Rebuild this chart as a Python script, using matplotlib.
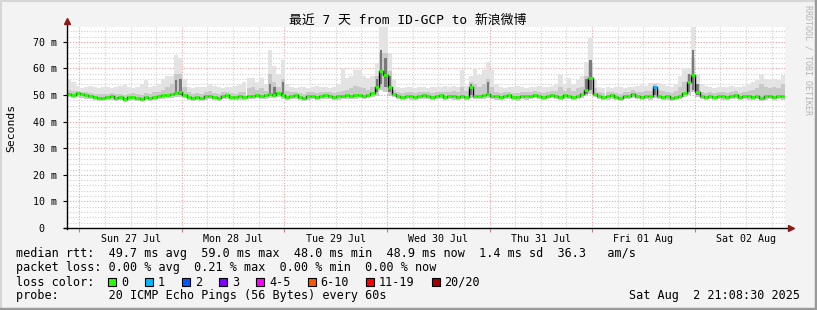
import datetime as dt
import matplotlib
matplotlib.use('Agg')
import matplotlib.pyplot as plt
import matplotlib.dates as mdates
from matplotlib.patches import Rectangle
from matplotlib.lines import Line2D
import numpy as np

plt.rcParams['font.family'] = ['DejaVu Sans Mono', 'Noto Sans CJK SC']

start = dt.datetime(2025, 7, 26, 21, 8, 30)

# hourly median rtt (ms), one row per 24 h starting at 'start'
median = [
    50.5, 50.2, 50.8, 50.4, 50.0, 49.6, 49.3, 49.0, 48.8, 49.2, 49.5, 49.0, 49.3, 48.6, 49.1, 49.4, 49.0, 48.7, 49.2, 48.8, 49.3, 49.6, 49.9, 50.2,
    50.4, 50.8, 51.0, 50.2, 49.4, 48.9, 49.3, 49.0, 49.5, 49.8, 49.3, 49.0, 49.6, 49.9, 49.4, 49.1, 49.5, 49.2, 49.8, 49.6, 50.1, 49.7, 49.9, 50.3,
    50.2, 50.6, 50.0, 49.2, 49.6, 49.9, 49.4, 49.0, 49.5, 49.8, 49.3, 49.7, 50.0, 49.6, 49.2, 49.5, 49.8, 50.0, 49.7, 49.9, 50.2, 49.8, 50.1, 50.6,
    53.0, 59.0, 57.5, 53.0, 50.4, 49.6, 49.4, 49.8, 49.5, 49.2, 49.6, 49.9, 49.7, 49.3, 49.6, 50.0, 49.4, 49.8, 49.5, 49.2, 49.7, 49.4, 53.0, 49.8,
    49.6, 50.0, 50.4, 49.8, 49.5, 49.2, 49.6, 49.9, 49.4, 49.1, 49.7, 49.5, 49.8, 50.1, 49.6, 49.3, 49.8, 50.2, 49.7, 49.4, 49.9, 49.6, 49.3, 49.8,
    50.4, 52.0, 56.5, 50.5, 49.6, 49.2, 49.5, 49.9, 49.4, 49.0, 49.6, 49.8, 50.4, 49.7, 49.3, 49.8, 49.5, 53.0, 49.6, 49.2, 49.5, 49.0, 49.4, 49.8,
    50.6, 55.0, 57.6, 51.0, 49.6, 49.3, 49.7, 49.4, 49.8, 49.5, 49.2, 49.7, 50.0, 49.4, 49.8, 49.5, 49.2, 49.6, 49.0, 49.5, 49.8, 49.3, 49.6, 49.5,
]

# top of the light smoke (slowest ping)
smoke_hi = [
    55.5, 55.0, 53.5, 52.5, 53.0, 53.5, 53.0, 52.5, 53.0, 53.0, 52.5, 53.0, 53.5, 54.0, 53.0, 52.5, 53.0, 54.0, 55.5, 53.0, 53.5, 54.0, 56.0, 57.0,
    57.0, 65.0, 64.0, 56.0, 53.0, 52.5, 53.0, 53.0, 53.0, 54.0, 53.5, 53.0, 52.5, 53.0, 53.0, 53.5, 54.0, 55.0, 56.5, 56.5, 55.0, 56.5, 54.0, 67.0,
    61.0, 58.0, 63.0, 54.0, 53.0, 52.5, 53.0, 53.0, 52.5, 53.0, 53.5, 53.0, 53.0, 52.5, 53.0, 54.0, 60.0, 56.5, 57.0, 59.5, 59.5, 57.0, 56.5, 57.0,
    62.0, 76.0, 76.0, 66.0, 56.0, 53.0, 52.5, 53.0, 53.0, 52.5, 53.0, 53.0, 52.5, 53.0, 53.0, 53.0, 53.5, 53.0, 53.5, 53.0, 59.5, 53.5, 57.0, 60.0,
    57.5, 59.5, 62.4, 59.5, 54.0, 53.0, 52.5, 53.0, 53.0, 53.5, 53.0, 52.5, 53.0, 53.0, 53.5, 53.0, 53.0, 53.5, 54.0, 57.6, 54.0, 56.5, 54.0, 55.7,
    57.0, 62.5, 71.5, 56.0, 53.0, 52.5, 53.0, 52.5, 53.0, 53.0, 52.5, 53.0, 53.0, 53.5, 54.0, 53.5, 54.5, 54.6, 54.6, 54.0, 53.5, 53.0, 54.0, 57.0,
    60.0, 60.0, 76.0, 58.0, 54.0, 53.5, 53.0, 52.5, 53.0, 53.0, 53.0, 53.5, 53.0, 53.0, 53.5, 54.0, 55.0, 55.5, 57.6, 56.0, 55.5, 56.0, 55.5, 57.6,
]

# top of the medium smoke band
smoke_mid = [
    52.0, 51.5, 51.5, 51.0, 51.0, 50.8, 50.5, 50.5, 50.3, 50.5, 50.8, 50.5, 50.5, 50.2, 50.5, 50.8, 50.5, 50.2, 50.7, 50.5, 51.0, 51.0, 52.0, 53.0,
    54.0, 58.0, 58.0, 53.0, 51.0, 50.5, 50.7, 50.5, 51.0, 51.5, 50.8, 50.5, 51.0, 51.2, 50.8, 50.5, 51.0, 51.0, 52.5, 53.0, 52.0, 52.5, 51.5, 58.0,
    55.0, 53.0, 56.0, 51.5, 51.0, 51.0, 50.8, 50.5, 51.0, 51.2, 50.8, 51.0, 51.3, 51.0, 50.7, 51.0, 51.5, 52.0, 52.5, 53.5, 53.0, 52.5, 52.0, 53.0,
    57.0, 66.0, 66.0, 59.0, 52.0, 51.0, 50.8, 51.0, 51.0, 50.7, 51.0, 51.3, 51.0, 50.8, 51.0, 51.3, 51.0, 51.2, 51.5, 51.0, 53.0, 51.5, 55.0, 54.0,
    53.0, 54.0, 56.0, 53.0, 51.3, 50.8, 51.0, 51.3, 50.8, 50.6, 51.1, 51.0, 51.2, 51.5, 51.0, 50.8, 51.2, 51.6, 51.5, 53.0, 51.5, 52.5, 51.5, 52.5,
    53.0, 57.0, 62.0, 52.5, 51.0, 50.7, 51.0, 51.3, 50.8, 50.5, 51.0, 51.2, 51.8, 51.2, 51.0, 51.5, 51.5, 54.0, 52.0, 51.5, 51.2, 50.8, 51.5, 53.0,
    55.0, 58.0, 64.0, 54.0, 51.2, 50.8, 51.1, 50.8, 51.2, 51.0, 50.7, 51.1, 51.5, 50.8, 51.2, 51.5, 52.0, 52.5, 54.0, 53.0, 52.5, 53.0, 52.5, 54.0,
]

# bottom of the smoke (fastest ping)
smoke_lo = [
    49.2, 49.0, 49.4, 49.0, 48.7, 48.4, 48.1, 47.9, 47.7, 48.0, 48.3, 47.9, 48.1, 47.5, 47.9, 48.2, 47.9, 47.6, 48.0, 47.7, 48.1, 48.4, 48.6, 48.9,
    49.0, 49.2, 49.4, 48.8, 48.2, 47.8, 48.1, 47.9, 48.3, 48.6, 48.1, 47.9, 48.4, 48.6, 48.2, 48.0, 48.3, 48.0, 48.5, 48.4, 48.8, 48.5, 48.6, 48.9,
    48.8, 49.1, 48.7, 48.0, 48.4, 48.6, 48.2, 47.9, 48.3, 48.6, 48.1, 48.5, 48.7, 48.4, 48.0, 48.3, 48.5, 48.7, 48.5, 48.6, 48.9, 48.6, 48.8, 49.2,
    49.5, 52.0, 51.0, 49.5, 49.1, 48.4, 48.2, 48.6, 48.3, 48.0, 48.4, 48.6, 48.5, 48.1, 48.4, 48.7, 48.2, 48.6, 48.3, 48.0, 48.5, 48.2, 49.0, 48.6,
    48.4, 48.7, 49.0, 48.6, 48.3, 48.0, 48.4, 48.6, 48.2, 47.9, 48.5, 48.3, 48.6, 48.8, 48.4, 48.1, 48.6, 48.9, 48.5, 48.2, 48.7, 48.4, 48.1, 48.6,
    49.0, 49.6, 50.5, 49.2, 48.4, 48.0, 48.3, 48.6, 48.2, 47.8, 48.4, 48.6, 49.0, 48.5, 48.1, 48.6, 48.3, 48.8, 48.4, 48.0, 48.3, 47.8, 48.2, 48.6,
    49.2, 50.0, 51.0, 49.4, 48.4, 48.1, 48.5, 48.2, 48.6, 48.3, 48.0, 48.5, 48.7, 48.2, 48.6, 48.3, 48.0, 48.4, 47.8, 48.3, 48.6, 48.1, 48.4, 48.3,
]

# dark smoke core in the busy hours
dark_hours = [25, 26, 47, 48, 50, 72, 73, 74, 75, 94, 98, 121, 122, 137, 145, 146, 147]
dark_lo = [50.0, 50.0, 49.5, 49.5, 49.5, 51.0, 54.0, 53.0, 51.0, 50.0, 50.0, 50.5, 52.0, 50.0, 51.0, 52.0, 50.0]
dark_hi = [55.5, 56.0, 54.0, 53.0, 55.0, 56.0, 67.0, 64.0, 57.0, 54.0, 55.0, 56.0, 63.0, 53.5, 58.0, 67.0, 54.0]

# hours with packet loss (count of lost pings out of 20)
loss_hours = [137]
loss_count = [1]

day_labels = ['Sun 27 Jul', 'Mon 28 Jul', 'Tue 29 Jul', 'Wed 30 Jul', 'Thu 31 Jul', 'Fri 01 Aug', 'Sat 02 Aug']
ytick_vals = [0, 10, 20, 30, 40, 50, 60, 70]
ytick_labels = ['0  ', '10 m', '20 m', '30 m', '40 m', '50 m', '60 m', '70 m']

loss_names = ['0', '1', '2', '3', '4-5', '6-10', '11-19', '20/20']
loss_colors = ['#26ff00', '#00b8ff', '#0059ff', '#7e00ff', '#ff00ff', '#ff5500', '#ff0000', '#a10000']

line_rtt = 'median rtt:  49.7 ms avg  59.0 ms max  48.0 ms min  48.9 ms now  1.4 ms sd  36.3   am/s'
line_loss = 'packet loss: 0.00 % avg  0.21 % max  0.00 % min  0.00 % now'
line_probe = 'probe:       20 ICMP Echo Pings (56 Bytes) every 60s'
stamp = 'Sat Aug  2 21:08:30 2025'

W, H = 817, 310
fig = plt.figure(figsize=(W / 100, H / 100), dpi=100, facecolor='#f3f3f3')
ax = fig.add_axes([67 / W, 1 - 228 / H, 718 / W, 201 / H])
ax.set_facecolor('white')

t0 = mdates.date2num(start)
x = t0 + np.arange(len(median)) / 24.0
hour = 1 / 24.0

# grid
first_mid = mdates.date2num(dt.datetime(2025, 7, 27))
for k in range(-1, 29):
    t = first_mid + k * 0.25
    if t0 < t < t0 + 7:
        c = '#f0a0a0' if k % 4 == 0 else '#cfcfcf'
        ax.axvline(t, color=c, lw=0.8, ls=(0, (1, 1.5)), zorder=0.5)
for v in range(2, 76, 2):
    c = '#f0a0a0' if v % 10 == 0 else '#cfcfcf'
    ax.axhline(v, color=c, lw=0.8, ls=(0, (1, 1.5)), zorder=0.5)

# smoke
lo = np.array(smoke_lo)
ax.bar(x, np.array(smoke_hi) - lo, bottom=lo, width=hour, align='edge', color='#e3e3e3', lw=0, zorder=1)
ax.bar(x, np.array(smoke_mid) - lo, bottom=lo, width=hour, align='edge', color='#c9c9c9', lw=0, zorder=1.1)
dx = t0 + np.array(dark_hours) / 24.0
ax.bar(dx + hour * 0.2, np.array(dark_hi) - np.array(dark_lo), bottom=dark_lo, width=hour * 0.6, align='edge',
       color='#7a7a7a', lw=0, zorder=1.2)

# median line
ax.step(np.append(x, t0 + 7), np.append(median, median[-1]), where='post', color='black', lw=1.0, zorder=2)
seg_colors = [loss_colors[0]] * len(median)
for h, n in zip(loss_hours, loss_count):
    seg_colors[h] = loss_colors[n]
ax.hlines(median, x, x + hour, colors=seg_colors, lw=2.0, zorder=3)

ax.set_xlim(t0, t0 + 7)
ax.set_ylim(0, 75.6)

noons = [mdates.date2num(dt.datetime(2025, 7, 27, 12)) + d for d in range(7)]
mids = [first_mid + d for d in range(7)]
ax.set_xticks(noons)
ax.set_xticklabels(day_labels, fontsize=7.2)
ax.set_xticks(mids, minor=True)
ax.tick_params(axis='x', which='major', length=0, pad=4)
ax.tick_params(axis='x', which='minor', length=3, width=0.8, color='#c08080')
ax.set_yticks(ytick_vals)
ax.set_yticklabels(ytick_labels, fontsize=7.2)
ax.tick_params(axis='y', length=3, width=0.8, pad=4)

for s in ax.spines.values():
    s.set_visible(False)

# axes with arrows
fig.add_artist(Line2D([67 / W, 67 / W], [1 - 229 / H, 1 - 22 / H], color='black', lw=1))
fig.add_artist(Line2D([64 / W, 790 / W], [1 - 228 / H, 1 - 228 / H], color='black', lw=1))
fig.add_artist(Line2D([67 / W], [1 - 21 / H], marker='^', ms=5, color='#8b1a1a', lw=0))
fig.add_artist(Line2D([791 / W], [1 - 228 / H], marker='>', ms=5, color='#8b1a1a', lw=0))

fig.text(408 / W, 1 - 20 / H, '最近 7 天 from ID-GCP to 新浪微博', ha='center', va='center', fontsize=9.3)
fig.text(11 / W, 1 - 128 / H, 'Seconds', rotation=90, ha='center', va='center', fontsize=8.2)
fig.text(808 / W, 1 - 60 / H, 'RRDTOOL / TOBI OETIKER', rotation=270, ha='center', va='center',
         fontsize=6, color='#b4b4b4')

fig.text(16 / W, 1 - 254 / H, line_rtt, va='center', fontsize=8.5)
fig.text(16 / W, 1 - 268 / H, line_loss, va='center', fontsize=8.5)
fig.text(16 / W, 1 - 282 / H, 'loss color:', va='center', fontsize=8.5)
fig.text(16 / W, 1 - 296 / H, line_probe, va='center', fontsize=8.5)
fig.text(800 / W, 1 - 296 / H, stamp, ha='right', va='center', fontsize=8.5)

sx = 108
for name, col in zip(loss_names, loss_colors):
    fig.add_artist(Rectangle((sx / W, 1 - 286 / H), 8 / W, 8 / H, transform=fig.transFigure,
                             facecolor=col, edgecolor='black', lw=0.8))
    fig.text((sx + 13) / W, 1 - 282 / H, name, va='center', fontsize=8.5)
    sx = sx + 13 + 7.1 * len(name) + 17

# 3d frame
fig.add_artist(Line2D([0, 1], [1 - 0.5 / H, 1 - 0.5 / H], color='#d6d6d6', lw=1.5))
fig.add_artist(Line2D([0.5 / W, 0.5 / W], [0, 1], color='#d6d6d6', lw=1.5))
fig.add_artist(Line2D([0, 1], [1.5 / H, 1.5 / H], color='#9a9a9a', lw=2.5))
fig.add_artist(Line2D([1 - 1.5 / W, 1 - 1.5 / W], [0, 1], color='#9a9a9a', lw=2.5))

fig.savefig('out.png', dpi=100, facecolor=fig.get_facecolor())
